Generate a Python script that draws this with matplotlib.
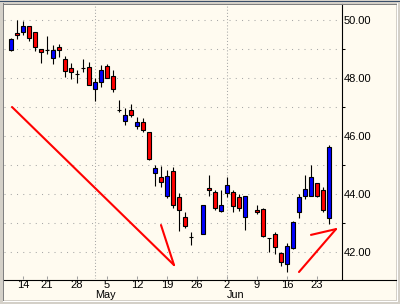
import matplotlib
matplotlib.use("Agg")
import matplotlib.pyplot as plt
from matplotlib.lines import Line2D

# weekday slot index (gaps = no data), OHLC prices
slots = [0, 1, 2, 3, 4, 5, 6, 7, 8, 9, 10, 11, 12, 13, 14, 15, 16, 17, 18, 19,
         20, 21, 22, 23, 24, 25, 26, 27, 28, 29, 30, 32, 33, 34, 35, 36, 37, 38,
         39, 41, 42, 43, 44, 45, 46, 47, 48, 49, 50, 51, 52, 53]
opens = [48.97, 49.55, 49.59, 49.79, 49.59, 49.00, 48.97, 48.69, 49.07, 48.66,
         48.34, 48.14, 48.34, 48.38, 47.62, 47.86, 48.41, 48.07, 46.90, 46.52,
         46.90, 46.34, 46.48, 46.14, 44.72, 44.59, 43.93, 44.79, 43.90, 43.21,
         42.52, 42.62, 44.21, 44.07, 43.41, 44.03, 44.07, 43.90,
         43.21, 43.45, 43.48, 42.48, 42.62, 41.97, 41.59, 42.14, 43.38, 43.93,
         43.93, 44.38, 44.14, 43.17]
highs = [49.38, 50.00, 49.97, 49.79, 49.59, 49.00, 49.45, 49.14, 49.17, 48.76,
         48.52, 48.28, 48.66, 48.55, 48.00, 48.45, 48.48, 48.28, 47.24, 46.97,
         47.10, 46.66, 46.62, 46.14, 45.00, 44.97, 44.83, 44.93, 44.03, 43.38,
         42.69, 43.62, 44.66, 44.14, 44.14, 44.59, 44.14, 44.00,
         43.93, 43.62, 43.52, 42.48, 42.69, 42.00, 42.31, 43.07, 44.00, 44.66,
         45.00, 44.38, 44.24, 45.69]
lows = [48.93, 49.34, 49.48, 49.28, 48.93, 48.52, 48.83, 48.48, 48.72, 48.03,
        47.97, 47.83, 48.21, 47.76, 47.21, 47.69, 48.00, 47.52, 46.83, 46.38,
        46.66, 46.24, 46.14, 45.17, 44.28, 44.24, 43.86, 43.52, 42.72, 42.83,
        42.24, 42.62, 43.93, 43.45, 43.38, 43.90, 43.38, 43.41,
        42.76, 43.31, 42.52, 42.00, 41.93, 41.52, 41.31, 42.10, 43.17, 43.83,
        43.93, 43.90, 43.38, 42.97]
closes = [49.34, 49.48, 49.79, 49.38, 49.07, 48.90, 48.96, 48.97, 48.97, 48.24,
          48.21, 48.14, 48.34, 47.76, 47.86, 48.28, 48.00, 47.62, 46.90, 46.72,
          46.72, 46.48, 46.21, 45.21, 44.90, 44.41, 44.62, 43.62, 43.45, 42.90,
          42.52, 43.62, 44.14, 43.52, 43.62, 44.31, 43.59, 43.52,
          43.93, 43.38, 42.55, 42.48, 42.17, 41.66, 42.21, 43.03, 43.90, 44.17,
          44.59, 43.93, 43.45, 45.62]

tick_slots = [2, 6, 11, 16, 21, 26, 31, 36, 41, 46, 51]
tick_labels = ["14", "21", "28", "5", "12", "19", "26", "2", "9", "16", "23"]
month_slots = [14, 36]
month_labels = ["May", "Jun"]
price_ticks = [42, 44, 46, 48, 50]

# hand-drawn red marks (slot, price)
mark_a = ([0.17, 27.17], [47.0, 41.55])
mark_b = ([25.0, 27.17], [42.93, 41.55])
mark_c = ([48.0, 54.17], [41.31, 42.79])
mark_d = ([50.0, 54.17], [42.59, 42.79])

plt.rcParams["font.family"] = ["Liberation Sans", "DejaVu Sans"]

W, H = 400, 304
cream = "#FFFBF0"
fig = plt.figure(figsize=(W / 100, H / 100), dpi=100, facecolor="#D4D0C8")

bg = fig.add_axes([4 / W, 4 / H, 392 / W, 296 / H])
bg.set_facecolor(cream)
bg.set_xticks([])
bg.set_yticks([])
for s in bg.spines.values():
    s.set_visible(False)

# window frame lines
def fline(x0, y0, x1, y1, color, lw=1.0):
    fig.add_artist(Line2D([x0 / W, x1 / W], [1 - y0 / H, 1 - y1 / H],
                          transform=fig.transFigure, color=color, lw=lw * 0.72))

fline(0, 0.5, 400, 0.5, "#3A4F6A")
fline(3, 3.5, 397, 3.5, "#808080")
fline(2.5, 3, 2.5, 301, "#808080")
fline(3, 300.5, 397, 300.5, "#FFFFFF")
fline(396.5, 3, 396.5, 301, "#FFFFFF")

ax = fig.add_axes([4 / W, 25 / H, 338 / W, 275 / H])
ax.set_facecolor("none")
ax.set_xlim(-1.167, 55.17)
ax.set_ylim(41.069, 50.552)

for v in range(42, 51):
    ax.axhline(v, color="#A8A8A8", lw=0.75, ls=(0, (1, 5)), zorder=1)
for m in month_slots:
    ax.axvline(m, color="#A8A8A8", lw=0.75, ls=(0, (1, 2)), zorder=1)

ax.vlines(slots, lows, highs, color="black", lw=0.8, zorder=2)
bottoms = [min(o, c) for o, c in zip(opens, closes)]
heights = [abs(c - o) for o, c in zip(opens, closes)]
colors = ["#0000FF" if c > o else "#FF0000" for o, c in zip(opens, closes)]
ax.bar(slots, heights, bottom=bottoms, width=0.55, color=colors,
       edgecolor="black", linewidth=0.8, zorder=3)

for xs, ys in (mark_a, mark_b, mark_c, mark_d):
    ax.plot(xs, ys, color="#FF0000", lw=1.5, solid_capstyle="round", zorder=4)

for side in ("top", "left", "bottom"):
    ax.spines[side].set_visible(False)
ax.spines["right"].set_linewidth(0.8)
fline(4, 279.5, 396, 279.5, "black", 1.1)

ax.yaxis.tick_right()
ax.set_yticks(price_ticks, [f"{p:.2f}" for p in price_ticks])
ax.set_yticks([43, 45, 47, 49], minor=True)
ax.tick_params(axis="y", which="major", length=0, pad=1.5, labelsize=8)
ax.tick_params(axis="y", which="minor", length=2, width=0.75, color="black")

ax.set_xticks(tick_slots, tick_labels)
ax.tick_params(axis="x", direction="in", length=2, width=0.75,
               color="#A0A0A0", pad=1.0, labelsize=8)

# month names sit just under the day numbers
for m, lab in zip(month_slots, month_labels):
    ax.text(m, -0.04, lab, transform=ax.get_xaxis_transform(),
            ha="left", va="top", fontsize=7.8)

fig.savefig("out.png", dpi=100, facecolor=fig.get_facecolor())
